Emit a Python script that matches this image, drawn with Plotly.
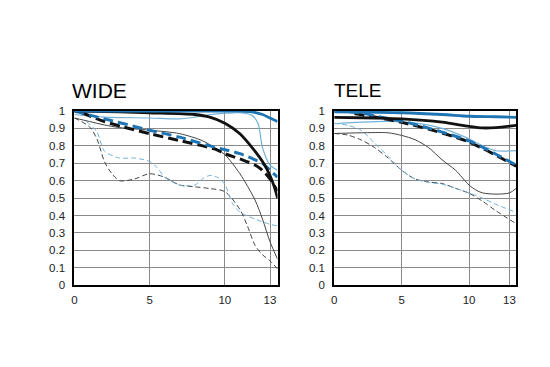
import plotly.graph_objects as go

# ---------------- DATA ----------------
# WIDE panel (x = image height mm, y = MTF contrast)
wide_thick_black_solid_x = [0, 3, 5, 8, 9, 10, 11, 12, 12.5, 13, 13.3, 13.5]
wide_thick_black_solid_y = [1.0, 0.995, 0.99, 0.98, 0.965, 0.93, 0.87, 0.77, 0.71, 0.63, 0.56, 0.5]

wide_thick_blue_solid_x = [0, 5, 10, 11, 11.8, 12.5, 13, 13.5]
wide_thick_blue_solid_y = [1.0, 1.0, 1.0, 1.0, 0.995, 0.98, 0.96, 0.94]

wide_thick_black_dash_x = [0.5, 2, 3.3, 5, 7, 9.4, 10, 11, 12, 12.5, 13, 13.5]
wide_thick_black_dash_y = [0.99, 0.94, 0.907, 0.87, 0.83, 0.78, 0.755, 0.725, 0.69, 0.66, 0.61, 0.54]

wide_thick_blue_dash_x = [0, 2, 5, 7, 9, 10, 11, 12, 12.5, 13, 13.5]
wide_thick_blue_dash_y = [1.0, 0.955, 0.89, 0.85, 0.8, 0.778, 0.755, 0.72, 0.7, 0.66, 0.62]

wide_thin_black_solid_x = [0, 1, 2, 3, 5, 7, 8.5, 9.5, 10, 11, 12, 12.5, 13, 13.5]
wide_thin_black_solid_y = [0.96, 0.94, 0.92, 0.905, 0.89, 0.87, 0.83, 0.78, 0.75, 0.64, 0.49, 0.38, 0.25, 0.15]

wide_thin_blue_solid_x = [0, 2, 5, 7, 8, 9, 10, 11, 11.8, 12.2, 12.5, 13, 13.5]
wide_thin_blue_solid_y = [0.98, 0.965, 0.96, 0.955, 0.965, 0.98, 0.987, 0.99, 0.975, 0.93, 0.79, 0.69, 0.66]

wide_thin_black_dash_x = [0, 1, 1.5, 2, 2.5, 3, 4, 5, 6, 7, 8, 9, 10, 11, 11.5, 12, 12.5, 13, 13.5]
wide_thin_black_dash_y = [0.96, 0.91, 0.84, 0.71, 0.64, 0.6, 0.61, 0.64, 0.62, 0.575, 0.565, 0.555, 0.537, 0.435, 0.34, 0.23, 0.175, 0.14, 0.093]

wide_thin_blue_dash_x = [0.8, 1.5, 2, 3, 4, 5, 5.5, 6, 7, 8, 8.5, 9, 9.5, 10, 10.5, 11, 12, 13, 13.5]
wide_thin_blue_dash_y = [0.94, 0.88, 0.77, 0.73, 0.73, 0.71, 0.675, 0.62, 0.575, 0.575, 0.61, 0.63, 0.62, 0.58, 0.47, 0.42, 0.38, 0.35, 0.34]

# TELE panel
tele_thick_blue_solid_x = [0, 5, 8, 10, 12, 13.5]
tele_thick_blue_solid_y = [0.995, 0.99, 0.98, 0.97, 0.967, 0.964]

tele_thick_black_solid_x = [0, 3, 5, 8, 10, 11, 12, 13.5]
tele_thick_black_solid_y = [0.964, 0.96, 0.955, 0.936, 0.912, 0.903, 0.905, 0.918]

tele_thick_blue_dash_x = [0, 2, 3, 5, 7, 9, 10, 11, 12, 13.5]
tele_thick_blue_dash_y = [1.0, 0.99, 0.972, 0.942, 0.902, 0.855, 0.828, 0.792, 0.752, 0.69]

tele_thick_black_dash_x = [1.5, 3, 5, 7, 9, 10, 11, 12, 13.5]
tele_thick_black_dash_y = [0.985, 0.966, 0.935, 0.896, 0.85, 0.822, 0.786, 0.746, 0.683]

tele_thin_blue_solid_x = [0, 2, 4, 6, 8, 10, 11, 12, 13.5]
tele_thin_blue_solid_y = [0.927, 0.936, 0.94, 0.93, 0.9, 0.84, 0.8, 0.772, 0.773]

tele_thin_black_solid_x = [0, 2, 4, 5, 6, 7, 8, 9, 10, 10.5, 11, 12, 13, 13.5]
tele_thin_black_solid_y = [0.871, 0.875, 0.875, 0.86, 0.835, 0.79, 0.72, 0.66, 0.575, 0.547, 0.53, 0.523, 0.53, 0.556]

tele_thin_black_dash_x = [0, 1, 2, 3, 4, 5, 6, 7, 8, 9, 10, 11, 12, 13.5]
tele_thin_black_dash_y = [0.871, 0.862, 0.834, 0.79, 0.73, 0.66, 0.61, 0.593, 0.584, 0.556, 0.528, 0.482, 0.427, 0.353]

tele_thin_blue_dash_x = [0, 1, 2, 3, 4, 5, 6, 7, 8, 9, 10, 11, 12, 13.5]
tele_thin_blue_dash_y = [0.93, 0.918, 0.89, 0.815, 0.74, 0.66, 0.61, 0.59, 0.58, 0.556, 0.53, 0.5, 0.464, 0.418]

x_tickvals = [0, 5, 10, 13]
x_ticktext = ["0", "5", "10", "13"]
y_tickvals = [0, 0.1, 0.2, 0.3, 0.4, 0.5, 0.6, 0.7, 0.8, 0.9, 1]
y_ticktext = ["0", "0.1", "0.2", "0.3", "0.4", "0.5", "0.6", "0.7", "0.8", "0.9", "1"]
titles = ["WIDE", "TELE"]

# ---------------- STYLE ----------------
BLACK = "#111111"
GRAY = "#444444"
BLUE = "#1f74b3"
LBLUE = "#72b2da"

fig = go.Figure()

def add(x, y, color, width, dash, xa, ya):
    fig.add_trace(go.Scatter(x=x, y=y, mode="lines", xaxis=xa, yaxis=ya,
                             line=dict(color=color, width=width, dash=dash,
                                       shape="spline", smoothing=0.8),
                             showlegend=False, hoverinfo="skip"))

# WIDE (thin first, thick on top)
add(wide_thin_black_dash_x, wide_thin_black_dash_y, GRAY, 1, "5px,3px", "x", "y")
add(wide_thin_blue_dash_x, wide_thin_blue_dash_y, LBLUE, 1, "5px,3px", "x", "y")
add(wide_thin_black_solid_x, wide_thin_black_solid_y, GRAY, 1, "solid", "x", "y")
add(wide_thin_blue_solid_x, wide_thin_blue_solid_y, LBLUE, 1.2, "solid", "x", "y")
add(wide_thick_black_dash_x, wide_thick_black_dash_y, BLACK, 3, "10px,5px", "x", "y")
add(wide_thick_blue_dash_x, wide_thick_blue_dash_y, BLUE, 3, "10px,5px", "x", "y")
add(wide_thick_black_solid_x, wide_thick_black_solid_y, BLACK, 2.8, "solid", "x", "y")
add(wide_thick_blue_solid_x, wide_thick_blue_solid_y, BLUE, 2.8, "solid", "x", "y")

# TELE
add(tele_thin_black_dash_x, tele_thin_black_dash_y, GRAY, 1, "5px,3px", "x2", "y2")
add(tele_thin_blue_dash_x, tele_thin_blue_dash_y, LBLUE, 1, "5px,3px", "x2", "y2")
add(tele_thin_black_solid_x, tele_thin_black_solid_y, GRAY, 1, "solid", "x2", "y2")
add(tele_thin_blue_solid_x, tele_thin_blue_solid_y, LBLUE, 1.2, "solid", "x2", "y2")
add(tele_thick_black_dash_x, tele_thick_black_dash_y, BLACK, 3, "10px,5px", "x2", "y2")
add(tele_thick_blue_dash_x, tele_thick_blue_dash_y, BLUE, 3, "10px,5px", "x2", "y2")
add(tele_thick_black_solid_x, tele_thick_black_solid_y, BLACK, 2.8, "solid", "x2", "y2")
add(tele_thick_blue_solid_x, tele_thick_blue_solid_y, BLUE, 2.8, "solid", "x2", "y2")

W, H = 550, 367
OFF = 8  # page body margin offset
ydom = [1 - (288.4 - OFF) / H, 1 - (108.3 - OFF) / H]
tickfont = dict(family="Liberation Sans, Arial, sans-serif", size=11.5, color="#222222")

xcommon = dict(range=[0, 13.5], tickvals=x_tickvals, ticktext=x_ticktext,
               showgrid=True, gridcolor="#8a8a8a", gridwidth=1,
               showline=True, linecolor="#000000", linewidth=2, mirror=True,
               ticks="outside", ticklen=3, tickcolor="rgba(0,0,0,0)",
               zeroline=False, tickfont=tickfont, fixedrange=True)
ycommon = dict(range=[0, 1], tickvals=y_tickvals, ticktext=y_ticktext,
               showgrid=True, gridcolor="#8a8a8a", gridwidth=1,
               showline=True, linecolor="#000000", linewidth=2, mirror=True,
               ticks="outside", ticklen=5, tickcolor="rgba(0,0,0,0)",
               zeroline=False, tickfont=tickfont, fixedrange=True)

fig.update_layout(
    width=W, height=H,
    margin=dict(l=0, r=0, t=0, b=0),
    paper_bgcolor="white", plot_bgcolor="white",
    xaxis=dict(domain=[(71.7 - OFF) / W, (276 - OFF) / W], anchor="y", **xcommon),
    yaxis=dict(domain=ydom, anchor="x", **ycommon),
    xaxis2=dict(domain=[(333 - OFF) / W, (516 - OFF) / W], anchor="y2", **xcommon),
    yaxis2=dict(domain=ydom, anchor="x2", **ycommon),
    annotations=[
        dict(text=titles[0], x=(67 - OFF) / W, y=1 - (87 - OFF) / H, xref="paper", yref="paper",
             xanchor="left", yanchor="middle", showarrow=False,
             font=dict(family="Liberation Sans, Arial, sans-serif", size=21, color="#000000")),
        dict(text=titles[1], x=(331 - OFF) / W, y=1 - (87 - OFF) / H, xref="paper", yref="paper",
             xanchor="left", yanchor="middle", showarrow=False,
             font=dict(family="Liberation Sans, Arial, sans-serif", size=19, color="#000000")),
    ],
)

fig.write_html("out.html")
